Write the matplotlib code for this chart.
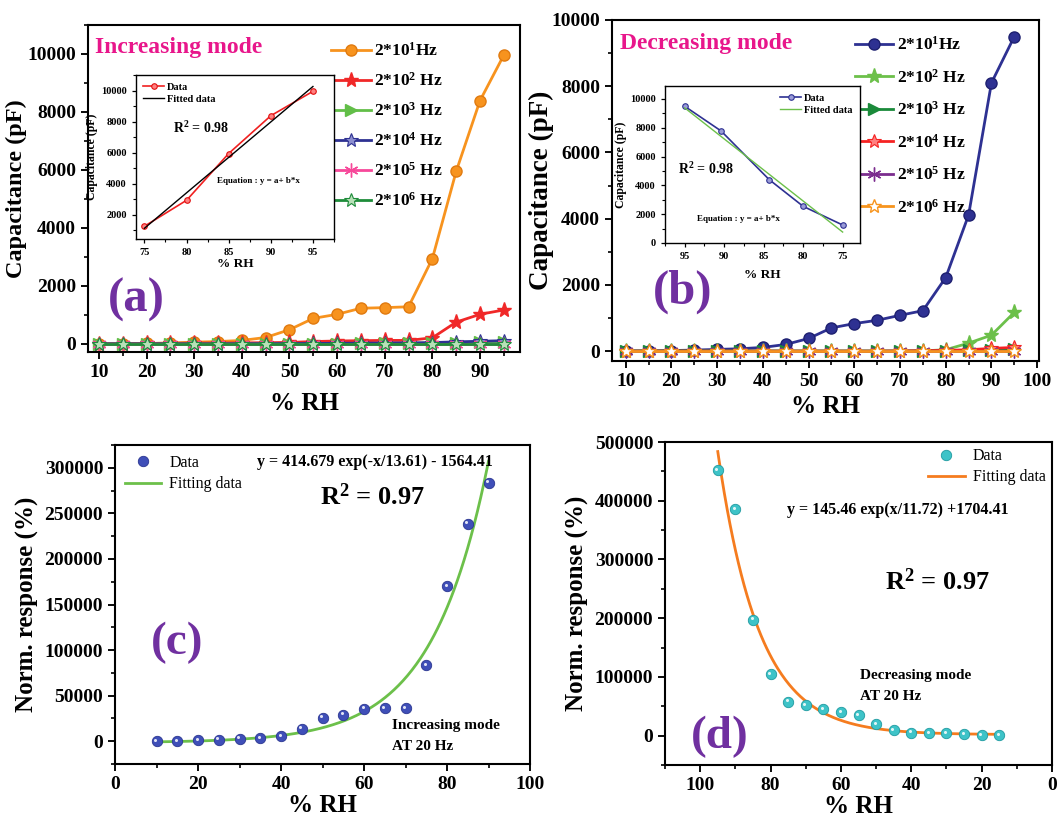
import numpy as np
import matplotlib
matplotlib.use("Agg")
import matplotlib.pyplot as plt
from matplotlib.ticker import MultipleLocator
from matplotlib import transforms

plt.rcParams['font.family'] = ['Liberation Serif', 'DejaVu Serif']
plt.rcParams['font.weight'] = 'bold'
plt.rcParams['mathtext.fontset'] = 'custom'
plt.rcParams['mathtext.rm'] = 'Liberation Serif:bold'
plt.rcParams['mathtext.bf'] = 'Liberation Serif:bold'
plt.rcParams['mathtext.it'] = 'Liberation Serif:bold:italic'
plt.rcParams['mathtext.default'] = 'rm'

# ---------------- data ----------------
rh = [10, 15, 20, 25, 30, 35, 40, 45, 50, 55, 60, 65, 70, 75, 80, 85, 90, 95]
freq_labels_a = [r"2*10$^{1}$Hz", r"2*10$^{2}$ Hz", r"2*10$^{3}$ Hz",
                 r"2*10$^{4}$ Hz", r"2*10$^{5}$ Hz", r"2*10$^{6}$ Hz"]

inc_f1 = [0, 5, 15, 30, 60, 80, 120, 220, 490, 880, 1020, 1230, 1250, 1280, 2940, 5950, 8390, 9960]
inc_f2 = [10, 10, 15, 20, 25, 30, 35, 40, 50, 80, 100, 110, 120, 120, 210, 750, 1020, 1170]
inc_f3 = [0, 0, 0, 0, 0, 0, 0, 0, 5, 10, 10, 15, 15, 20, 25, 40, 50, 60]
inc_f4 = [0, 0, 0, 0, 0, 0, 5, 5, 10, 15, 20, 25, 30, 35, 45, 70, 90, 110]
inc_f5 = [0] * 18
inc_f6 = [0] * 18

dec_f1 = [0, 5, 15, 30, 50, 70, 110, 200, 380, 700, 830, 930, 1080, 1220, 2220, 4110, 8100, 9500]
dec_f2 = [0, 0, 0, 0, 0, 0, 0, 0, 0, 0, 0, 0, 0, 5, 40, 240, 480, 1170]
dec_f3 = [0, 0, 0, 0, 0, 0, 0, 0, 0, 0, 0, 0, 0, 5, 10, 20, 40, 60]
dec_f4 = [0, 0, 0, 0, 0, 0, 0, 0, 0, 0, 0, 0, 5, 10, 20, 40, 80, 110]
dec_f5 = [0] * 18
dec_f6 = [0] * 18

inset_a_x = [75, 80, 85, 90, 95]
inset_a_y = [1270, 2940, 5950, 8380, 9950]
inset_a_fit_x = [75, 95]
inset_a_fit_y = [1140, 10260]

inset_b_x = [95, 90.4, 84.3, 80, 75]
inset_b_y = [9490, 7780, 4400, 2546, 1250]
inset_b_fit_x = [95, 75]
inset_b_fit_y = [9380, 760]

resp_inc_x = [10, 15, 20, 25, 30, 35, 40, 45, 50, 55, 60, 65, 70, 75, 80, 85, 90]
resp_inc_y = [0, 0, 1100, 1800, 2900, 3300, 5500, 13900, 25700, 29000, 35600,
              36300, 36300, 83200, 169800, 238700, 283800]
fit_c_a, fit_c_t, fit_c_c = 414.679, 13.61, -1564.41
fit_c_range = (10, 90)

resp_dec_x = [95, 90, 85, 80, 75, 70, 65, 60, 55, 50, 45, 40, 35, 30, 25, 20, 15]
resp_dec_y = [452200, 386200, 197400, 105200, 58000, 51800, 45000, 40400, 34700,
              19300, 9700, 5100, 4500, 4000, 2300, 1100, 600]
fit_d_a, fit_d_t, fit_d_c = 145.46, 11.72, 1704.41
fit_d_range = (15, 95)

# ---------------- figure ----------------
W, H = 1064, 827
fig = plt.figure(figsize=(W / 100, H / 100), dpi=100)


def rect(x0, y0, x1, y1):
    return [x0 / W, 1 - y1 / H, (x1 - x0) / W, (y1 - y0) / H]


def fx(x):
    return x / W


def fy(y):
    return 1 - y / H


def style(ax, fs=14, lw=1.5, major=5, minor=3):
    for s in ax.spines.values():
        s.set_linewidth(lw)
    ax.tick_params(which='major', direction='out', length=major, width=lw * 0.9,
                   labelsize=fs, top=False, right=False)
    ax.tick_params(which='minor', direction='out', length=minor, width=lw * 0.8,
                   top=False, right=False)
    for lab in ax.get_xticklabels() + ax.get_yticklabels():
        lab.set_fontweight('bold')


PURPLE = '#7030A0'
PINK = '#E8168B'

# ---------- panel (a) ----------
axa = fig.add_axes(rect(88, 25, 520, 352))
styles_a = [
    dict(color='#F7931E', marker='o', ms=8, mfc='#F7931E', mec='#E07A10'),
    dict(color='#F02828', marker='*', ms=11, mfc='#F02828', mec='#F02828'),
    dict(color='#62BE48', marker='>', ms=9, mfc='#62BE48', mec='#62BE48'),
    dict(color='#2E3192', marker='*', ms=10, mfc='#8C8FD0', mec='#2E3192', mew=0.8),
    dict(color='#F7489A', marker=(6, 2, 0), ms=10, mfc='#F7489A', mec='#F7489A', mew=1.0),
    dict(color='#1E8C3A', marker='*', ms=10, mfc='#B8E0B8', mec='#1E8C3A', mew=0.8),
]
series_a = [inc_f1, inc_f2, inc_f3, inc_f4, inc_f5, inc_f6]
for ys, st, lab in zip(series_a, styles_a, freq_labels_a):
    axa.plot(rh, ys, lw=2, label=lab, **st)
axa.set_xlim(7.7, 98.4)
axa.set_ylim(-280, 11000)
axa.xaxis.set_minor_locator(MultipleLocator(5))
axa.yaxis.set_major_locator(MultipleLocator(2000))
axa.yaxis.set_minor_locator(MultipleLocator(1000))
axa.set_xticks(range(10, 100, 10))
style(axa)
axa.set_xlabel('% RH', fontsize=18, fontweight='bold', labelpad=8)
axa.set_ylabel('Capacitance (pF)', fontsize=17.5, fontweight='bold', labelpad=0)
axa.legend(loc='upper left', bbox_to_anchor=(fx(331), fy(42)), bbox_transform=fig.transFigure,
           frameon=False, fontsize=12.5, handlelength=2.3, handletextpad=0.2,
           labelspacing=0.7, borderpad=0, borderaxespad=0)
fig.text(fx(95), fy(47), 'Increasing mode', color=PINK, fontsize=17, fontweight='bold',
         ha='left', va='center')
fig.text(fx(108), fy(300), '(a)', color=PURPLE, fontsize=35, fontweight='bold',
         ha='left', va='center')

# inset (a)
ia = fig.add_axes(rect(136, 75, 334, 239))
ia.plot(inset_a_x, inset_a_y, color='#F02020', lw=1.2, marker='o', ms=4,
        mfc='#FF8080', mec='#E01010', mew=0.8, label='Data')
ia.plot(inset_a_fit_x, inset_a_fit_y, color='black', lw=1.0, label='Fitted data')
ia.set_xlim(74, 97.5)
ia.set_ylim(450, 11000)
ia.set_xticks([75, 80, 85, 90, 95])
ia.xaxis.set_minor_locator(MultipleLocator(2.5))
ia.set_yticks([2000, 4000, 6000, 8000, 10000])
ia.yaxis.set_minor_locator(MultipleLocator(1000))
style(ia, fs=7.5, lw=1.0, major=3, minor=2)
ia.set_xlabel('% RH', fontsize=9.5, fontweight='bold', labelpad=1)
ia.set_ylabel('Capacitance (pF)', fontsize=8.5, fontweight='bold', labelpad=2)
ia.legend(loc='upper left', frameon=False, fontsize=7.5, handlelength=2.0,
          handletextpad=0.3, labelspacing=0.3, borderaxespad=0.3)
fig.text(fx(173), fy(128), r'R$^{2}$ = 0.98', fontsize=10, ha='left', va='center')
fig.text(fx(217), fy(181), 'Equation : y = a+ b*x', fontsize=6.5, ha='left', va='center')

# ---------- panel (b) ----------
axb = fig.add_axes(rect(612, 20, 1039, 361))
styles_b = [
    dict(color='#2E3192', marker='o', ms=8, mfc='#2E3192', mec='#1E2070'),
    dict(color='#6CC04A', marker='*', ms=11, mfc='#6CC04A', mec='#6CC04A'),
    dict(color='#1A8A3A', marker='>', ms=9, mfc='#1A8A3A', mec='#1A8A3A'),
    dict(color='#F52222', marker='*', ms=10, mfc='#FF8080', mec='#F52222', mew=0.8),
    dict(color='#7B2D8E', marker=(6, 2, 0), ms=10, mfc='#7B2D8E', mec='#7B2D8E', mew=1.0),
    dict(color='#F7941D', marker='*', ms=10, mfc='white', mec='#F7941D', mew=1.0),
]
series_b = [dec_f1, dec_f2, dec_f3, dec_f4, dec_f5, dec_f6]
for ys, st, lab in zip(series_b, styles_b, freq_labels_a):
    axb.plot(rh, ys, lw=2, label=lab, **st)
axb.set_xlim(7, 100.4)
axb.set_ylim(-300, 10000)
axb.set_xticks(range(10, 101, 10))
axb.xaxis.set_minor_locator(MultipleLocator(5))
axb.yaxis.set_major_locator(MultipleLocator(2000))
axb.yaxis.set_minor_locator(MultipleLocator(1000))
style(axb)
axb.set_xlabel('% RH', fontsize=18, fontweight='bold', labelpad=4)
axb.set_ylabel('Capacitance (pF)', fontsize=19.5, fontweight='bold', labelpad=-2)
axb.legend(loc='upper left', bbox_to_anchor=(fx(855), fy(36)), bbox_transform=fig.transFigure,
           frameon=False, fontsize=12.5, handlelength=2.2, handletextpad=0.2,
           labelspacing=0.84, borderpad=0, borderaxespad=0)
fig.text(fx(620), fy(43), 'Decreasing mode', color=PINK, fontsize=17, fontweight='bold',
         ha='left', va='center')
fig.text(fx(653), fy(292), '(b)', color=PURPLE, fontsize=35, fontweight='bold',
         ha='left', va='center')

# inset (b)
ib = fig.add_axes(rect(665, 86, 860, 243))
ib.plot(inset_b_x, inset_b_y, color='#2E3192', lw=1.2, marker='o', ms=4,
        mfc='#9A9CD8', mec='#2E3192', mew=0.8, label='Data')
ib.plot(inset_b_fit_x, inset_b_fit_y, color='#6CC04A', lw=1.0, label='Fitted data')
ib.set_xlim(97.5, 72.8)
ib.set_ylim(0, 10900)
ib.set_xticks([95, 90, 85, 80, 75])
ib.xaxis.set_minor_locator(MultipleLocator(2.5))
ib.set_yticks([0, 2000, 4000, 6000, 8000, 10000])
ib.yaxis.set_minor_locator(MultipleLocator(1000))
style(ib, fs=7.5, lw=1.0, major=3, minor=2)
ib.set_xlabel('% RH', fontsize=9.5, fontweight='bold', labelpad=6)
ib.set_ylabel('Capacitance (pF)', fontsize=8.5, fontweight='bold', labelpad=2)
ib.legend(loc='upper right', frameon=False, fontsize=7.5, handlelength=2.0,
          handletextpad=0.3, labelspacing=0.3, borderaxespad=0.3)
fig.text(fx(678), fy(169), r'R$^{2}$ = 0.98', fontsize=10, ha='left', va='center')
fig.text(fx(697), fy(219), 'Equation : y = a+ b*x', fontsize=6.5, ha='left', va='center')


def balls(ax, x, y, face, edge, label):
    ax.plot(x, y, ls='none', marker='o', ms=7.5, mfc=face, mec=edge, mew=0.6, label=label, zorder=3)
    tr = transforms.offset_copy(ax.transData, fig=fig, x=-1.3, y=1.3, units='dots')
    ax.plot(x, y, ls='none', marker='o', ms=2.2, mfc='white', mec='none', alpha=0.85,
            transform=tr, zorder=4)


# ---------- panel (c) ----------
axc = fig.add_axes(rect(115, 445, 530, 764))
balls(axc, resp_inc_x, resp_inc_y, '#3F4FB8', '#2A3590', 'Data')
xc = np.linspace(fit_c_range[0], fit_c_range[1], 300)
axc.plot(xc, fit_c_a * np.exp(xc / fit_c_t) + fit_c_c, color='#6CC04A', lw=2, label='Fitting data', zorder=2)
axc.set_xlim(0, 100)
axc.set_ylim(-25000, 325000)
axc.xaxis.set_major_locator(MultipleLocator(20))
axc.xaxis.set_minor_locator(MultipleLocator(10))
axc.yaxis.set_major_locator(MultipleLocator(50000))
axc.yaxis.set_minor_locator(MultipleLocator(25000))
style(axc)
axc.set_xlabel('% RH', fontsize=18, fontweight='bold', labelpad=1)
axc.set_ylabel('Norm. response (%)', fontsize=18, fontweight='bold', labelpad=4)
h, l = axc.get_legend_handles_labels()
axc.legend(h, l, loc='upper left', frameon=False, prop=dict(family='Liberation Serif', weight='normal', size=11.5),
           handlelength=2.3, handletextpad=0.5, labelspacing=0.35, borderaxespad=0.2)
fig.text(fx(257), fy(462), 'y = 414.679 exp(-x/13.61) - 1564.41', fontsize=11.5, ha='left', va='center')
fig.text(fx(320), fy(497), r'R$^{2}$ = 0.97', fontsize=19, ha='left', va='center')
fig.text(fx(151), fy(643), '(c)', color=PURPLE, fontsize=34, fontweight='bold', ha='left', va='center')
fig.text(fx(392), fy(725), 'Increasing mode', fontsize=11, ha='left', va='center')
fig.text(fx(392), fy(746), 'AT 20 Hz', fontsize=11, ha='left', va='center')

# ---------- panel (d) ----------
axd = fig.add_axes(rect(665, 442, 1052, 765))
balls(axd, resp_dec_x, resp_dec_y, '#3EC3C8', '#1E9AA0', 'Data')
xd = np.linspace(fit_d_range[0], fit_d_range[1], 300)
axd.plot(xd, fit_d_a * np.exp(xd / fit_d_t) + fit_d_c, color='#F57C1F', lw=2, label='Fitting data', zorder=2)
axd.set_xlim(110, 0)
axd.set_ylim(-50000, 500000)
axd.xaxis.set_major_locator(MultipleLocator(20))
axd.xaxis.set_minor_locator(MultipleLocator(10))
axd.yaxis.set_major_locator(MultipleLocator(100000))
axd.yaxis.set_minor_locator(MultipleLocator(50000))
style(axd)
axd.set_xlabel('% RH', fontsize=18, fontweight='bold', labelpad=1)
axd.set_ylabel('Norm. response (%)', fontsize=18, fontweight='bold', labelpad=4)
h, l = axd.get_legend_handles_labels()
axd.legend(h, l, loc='upper right', frameon=False, prop=dict(family='Liberation Serif', weight='normal', size=11.5),
           handlelength=2.3, handletextpad=0.5, labelspacing=0.3, borderaxespad=0.0)
fig.text(fx(787), fy(510), 'y = 145.46 exp(x/11.72) +1704.41', fontsize=11.5, ha='left', va='center')
fig.text(fx(885), fy(582), r'R$^{2}$ = 0.97', fontsize=19, ha='left', va='center')
fig.text(fx(691), fy(737), '(d)', color=PURPLE, fontsize=34, fontweight='bold', ha='left', va='center')
fig.text(fx(860), fy(675), 'Decreasing mode', fontsize=11, ha='left', va='center')
fig.text(fx(860), fy(697), 'AT 20 Hz', fontsize=11, ha='left', va='center')

fig.savefig('out.png', dpi=100)
